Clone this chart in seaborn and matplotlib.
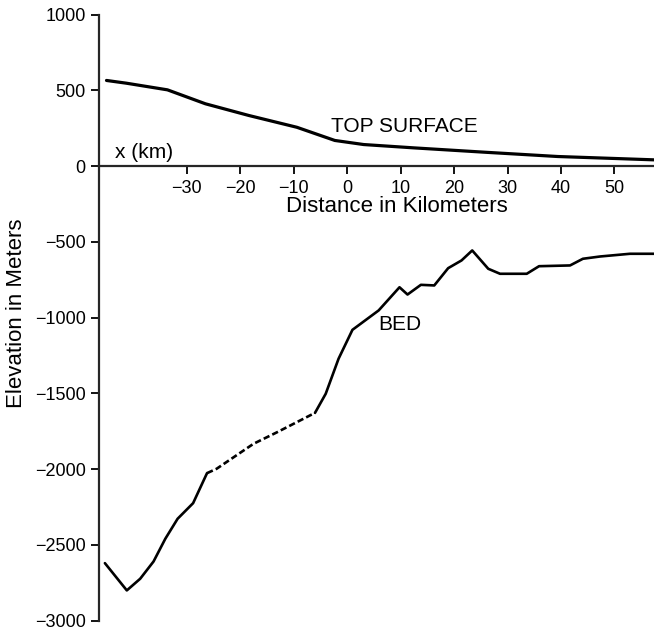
import numpy as np
import pandas as pd
import matplotlib
matplotlib.use('Agg')
import matplotlib.pyplot as plt
import seaborn as sns

sns.set_style('ticks')
plt.rcParams['font.family'] = ['Liberation Sans', 'DejaVu Sans']
plt.rcParams['text.color'] = 'black'
plt.rcParams['axes.labelcolor'] = 'black'

# top surface profile (km, m)
top_km = [-45.0, -41.3, -33.6, -26.5, -18.4, -9.4, -2.3, 3.1, 12.5, 25.9, 39.4, 57.4]
top_elev = [566, 548, 504, 412, 335, 257, 170, 143, 121, 92, 64, 42]

# bed profile (km, m); the stretch between dash_from and dash_to is dashed
bed_km = [-45.3, -41.2, -38.7, -36.2, -34.0, -31.7, -28.8, -26.2,
          -24.4, -17.5, -13.1, -6.0,
          -4.0, -1.6, 1.0, 5.9, 9.8, 11.3, 13.8, 16.3, 18.9, 21.4, 23.4,
          26.4, 28.6, 33.6, 35.9, 41.7, 44.1, 47.3, 52.9, 57.4]
bed_elev = [-2620, -2800, -2723, -2609, -2459, -2327, -2224, -2026,
            -1997, -1832, -1756, -1628,
            -1502, -1271, -1080, -952, -799, -847, -783, -787, -673, -622, -556,
            -677, -710, -710, -660, -655, -611, -596, -578, -578]
dash_from, dash_to = 7, 11

x_ticks = [-30, -20, -10, 0, 10, 20, 30, 40, 50]
y_ticks = [-3000, -2500, -2000, -1500, -1000, -500, 0, 500, 1000]

top = pd.DataFrame({'km': top_km, 'elev': top_elev})
bed = pd.DataFrame({'km': bed_km, 'elev': bed_elev})

fig = plt.figure(figsize=(6.54, 6.31), dpi=100)
ax = fig.add_axes([0.1514, 0.0163, 0.8486, 0.9604])

sns.lineplot(data=top, x='km', y='elev', ax=ax, color='black', lw=2.3, sort=False)
sns.lineplot(data=bed.iloc[:dash_from + 1], x='km', y='elev', ax=ax,
             color='black', lw=1.9, sort=False)
sns.lineplot(data=bed.iloc[dash_from:dash_to + 1], x='km', y='elev', ax=ax,
             color='black', lw=1.9, sort=False, linestyle=(0, (2.4, 1.2)))
sns.lineplot(data=bed.iloc[dash_to:], x='km', y='elev', ax=ax,
             color='black', lw=1.9, sort=False)

ax.set_xlim(-46.4, 57.4)
ax.set_ylim(-3000, 1000)
ax.set_xticks(x_ticks)
ax.set_yticks(y_ticks)
ax.set_xlabel('')
ax.set_ylabel('')

ax.spines['top'].set_visible(False)
ax.spines['right'].set_visible(False)
ax.spines['bottom'].set_position(('data', 0))
ax.spines['bottom'].set_linewidth(1.6)
ax.spines['left'].set_linewidth(1.6)
ax.tick_params(axis='both', direction='out', length=6, width=1.3,
               labelsize=13, color='black', labelcolor='black')
ax.tick_params(axis='x', pad=4)

ax.text(-43.4, 90, 'x (km)', fontsize=15, ha='left', va='center')
ax.text(10.7, 262, 'TOP SURFACE', fontsize=15, ha='center', va='center')
ax.text(9.9, -1045, 'BED', fontsize=15, ha='center', va='center')
ax.text(0.536, 0.683, 'Distance in Kilometers', fontsize=16,
        ha='center', va='center', transform=ax.transAxes)
fig.text(16.7 / 654, 0.504, 'Elevation in Meters', fontsize=16,
         rotation=90, ha='center', va='center')

fig.savefig('out.png', dpi=100)
